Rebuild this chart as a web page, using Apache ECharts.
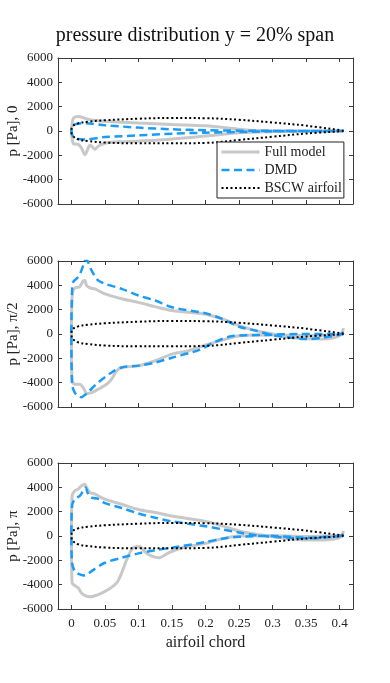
<!DOCTYPE html>
<html>
<head>
<meta charset="utf-8">
<script src="https://cdn.jsdelivr.net/npm/echarts@6/dist/echarts.min.js"></script>
<style>
  html, body { margin: 0; padding: 0; background: #fff; }
  #chart { width: 390px; height: 683px; }
</style>
</head>
<body>
<div id="chart"></div>
<script>
// chord ticks and pressure ticks
const chordTicks = [0, 0.05, 0.1, 0.15, 0.2, 0.25, 0.3, 0.35, 0.4];
const panelNames = ['p [Pa], 0', 'p [Pa], \u03c0/2', 'p [Pa], \u03c0'];
const seriesNames = ['Full model', 'DMD', 'BSCW airfoil'];

// BSCW airfoil outline (scaled), [x, p]
const airfoilUpper = [[0, 0], [0.002, 400], [0.01, 630], [0.025, 770], [0.05, 880], [0.1, 1010], [0.15, 1070], [0.2, 1050], [0.25, 920], [0.3, 700], [0.35, 440], [0.406, 30]];
const airfoilLower = [[0, 0], [0.002, -400], [0.01, -680], [0.025, -830], [0.05, -950], [0.1, -1010], [0.15, -1010], [0.2, -980], [0.25, -730], [0.3, -470], [0.35, -210], [0.406, -10]];

// phase 0
const full0Upper = [[0, 0], [0.001, 600], [0.003, 1050], [0.01, 1200], [0.02, 1050], [0.03, 900], [0.05, 800], [0.1, 650], [0.15, 530], [0.2, 430], [0.25, 150], [0.275, 40], [0.35, 10], [0.406, 0]];
const full0Lower = [[0, 0], [0.001, -600], [0.003, -1050], [0.01, -1100], [0.015, -1400], [0.02, -1950], [0.025, -1400], [0.028, -1150], [0.035, -1500], [0.04, -1250], [0.05, -1000], [0.075, -880], [0.125, -770], [0.2, -420], [0.25, -150], [0.3, -50], [0.35, -20], [0.406, 0]];
const dmd0Upper = [[0, 0], [0.002, 450], [0.01, 600], [0.02, 640], [0.05, 470], [0.1, 280], [0.15, 140], [0.2, 60], [0.3, 10], [0.406, 0]];
const dmd0Lower = [[0, 0], [0.002, -400], [0.01, -650], [0.02, -690], [0.05, -500], [0.1, -360], [0.15, -220], [0.2, -140], [0.3, -30], [0.406, 0]];

// phase pi/2
const full1Upper = [[0, 0], [0.001, 3000], [0.0025, 3580], [0.006, 3800], [0.0125, 3900], [0.0175, 4350], [0.02, 4400], [0.0225, 4000], [0.0275, 3800], [0.035, 3700], [0.05, 3300], [0.075, 2900], [0.1, 2600], [0.125, 2250], [0.15, 1930], [0.2, 1620], [0.225, 1240], [0.25, 690], [0.275, 280], [0.3, 0], [0.325, -270], [0.35, -400], [0.375, -410], [0.4, -140], [0.406, 480]];
const full1Lower = [[0, 0], [0.001, -3850], [0.005, -4130], [0.0125, -4130], [0.0175, -4400], [0.0235, -4900], [0.03, -4820], [0.04, -4540], [0.0525, -4130], [0.06, -3710], [0.0675, -3030], [0.075, -2750], [0.1, -2610], [0.125, -2200], [0.15, -1650], [0.175, -1380], [0.2, -900], [0.225, -500], [0.25, -140], [0.275, -80], [0.3, -90], [0.35, -130], [0.38, -110], [0.4, -30], [0.406, 0]];
const dmd1Upper = [[0, 0], [0.001, 3580], [0.0025, 4260], [0.01, 4680], [0.015, 5230], [0.02, 6000], [0.022, 6150], [0.025, 5900], [0.03, 5230], [0.04, 4400], [0.05, 4130], [0.075, 3710], [0.1, 3160], [0.125, 2750], [0.15, 2200], [0.2, 1700], [0.225, 1240], [0.25, 600], [0.275, 280], [0.3, -100], [0.325, -280], [0.35, -420], [0.375, -300], [0.4, -60], [0.406, 140]];
const dmd1Lower = [[0, 0], [0.001, -4130], [0.005, -4820], [0.01, -5100], [0.015, -5200], [0.02, -5000], [0.0235, -4900], [0.03, -4500], [0.04, -3990], [0.06, -3160], [0.075, -2750], [0.1, -2600], [0.125, -2350], [0.15, -1950], [0.19, -1320], [0.215, -630], [0.24, -170], [0.29, -80], [0.34, 0], [0.39, 0], [0.406, 0]];

// phase pi
const full2Upper = [[0, 0], [0.001, 3300], [0.005, 3710], [0.01, 3850], [0.015, 4130], [0.02, 4260], [0.0225, 4000], [0.0275, 3580], [0.035, 3440], [0.05, 3030], [0.075, 2610], [0.1, 2180], [0.125, 1930], [0.15, 1650], [0.2, 1200], [0.225, 830], [0.25, 410], [0.275, 140], [0.3, -60], [0.325, -220], [0.35, -330], [0.375, -330], [0.4, -140], [0.406, 410]];
const full2Lower = [[0, 0], [0.001, -3850], [0.005, -4070], [0.01, -4260], [0.015, -4680], [0.0225, -4950], [0.0275, -5000], [0.04, -4820], [0.055, -4400], [0.0675, -3850], [0.075, -3030], [0.0825, -1930], [0.09, -1100], [0.0975, -880], [0.1025, -880], [0.11, -1320], [0.12, -1650], [0.13, -1790], [0.145, -1380], [0.165, -960], [0.2, -600], [0.225, -220], [0.25, 0], [0.3, 50], [0.35, -50], [0.4, 50], [0.406, 0]];
const dmd2Upper = [[0, 0], [0.001, 2480], [0.005, 3030], [0.0125, 3300], [0.0175, 3710], [0.021, 3990], [0.025, 3440], [0.03, 3160], [0.04, 3050], [0.05, 2700], [0.075, 2300], [0.1, 1850], [0.125, 1500], [0.15, 1200], [0.2, 800], [0.225, 550], [0.25, 280], [0.275, 60], [0.325, -140], [0.35, -190], [0.375, -140], [0.4, 0], [0.406, 140]];
const dmd2Lower = [[0, 0], [0.001, -2200], [0.005, -2890], [0.0125, -3160], [0.02, -3250], [0.03, -2890], [0.05, -2200], [0.075, -1790], [0.1, -1430], [0.125, -1160], [0.15, -960], [0.2, -500], [0.225, -220], [0.25, -60], [0.3, 0], [0.35, -140], [0.4, 0], [0.406, 60]];

const fullCurves = [[full0Upper, full0Lower], [full1Upper, full1Lower], [full2Upper, full2Lower]];
const dmdCurves = [[dmd0Upper, dmd0Lower], [dmd1Upper, dmd1Lower], [dmd2Upper, dmd2Lower]];

// closed loop: trailing edge -> leading edge along upper side, then back along lower side
function loop(upper, lower) {
  return upper.slice().reverse().concat(lower.slice(1));
}

const font = "'Liberation Serif', 'DejaVu Serif', serif";
const axisColor = '#3a3a3a';
const gridTops = [58, 261, 463];
const gridH = 146;

const grids = [], xAxes = [], yAxes = [], series = [];

gridTops.forEach(function (top, i) {
  grids.push({ left: 58, width: 295, top: top, height: gridH, show: false, outerBoundsMode: 'none', containLabel: false });

  const xBase = {
    type: 'value', gridIndex: i, min: -0.02, max: 0.42,
    axisLine: { show: true, onZero: false, lineStyle: { color: axisColor, width: 1 } },
    axisTick: { show: true, inside: true, length: 4, customValues: chordTicks, lineStyle: { color: axisColor } },
    splitLine: { show: false }
  };
  xAxes.push(Object.assign({}, xBase, {
    position: 'bottom',
    axisLabel: {
      show: i === 2, customValues: chordTicks, margin: 8,
      color: '#222', fontFamily: font, fontSize: 13,
      formatter: function (v) { return String(Math.round(v * 100) / 100); }
    },
    name: i === 2 ? 'airfoil chord' : '',
    nameLocation: 'middle', nameGap: 26,
    nameTextStyle: { fontFamily: font, fontSize: 16, color: '#222' }
  }));
  xAxes.push(Object.assign({}, xBase, { position: 'top', axisLabel: { show: false } }));

  const yBase = {
    type: 'value', gridIndex: i, min: -6000, max: 6000, interval: 2000,
    axisLine: { show: true, onZero: false, lineStyle: { color: axisColor, width: 1 } },
    axisTick: { show: true, inside: true, length: 4, lineStyle: { color: axisColor } },
    splitLine: { show: false }
  };
  yAxes.push(Object.assign({}, yBase, {
    position: 'left',
    axisLabel: {
      color: '#222', fontFamily: font, fontSize: 13, margin: 5,
      formatter: function (v) { return String(v); }
    },
    name: panelNames[i], nameLocation: 'middle', nameGap: 37, nameMoveOverlap: false,
    nameTextStyle: { fontFamily: font, fontSize: 15, color: '#222' }
  }));
  yAxes.push(Object.assign({}, yBase, { position: 'right', axisLabel: { show: false } }));

  const xi = i * 2, yi = i * 2;
  series.push({
    name: seriesNames[0], type: 'line', xAxisIndex: xi, yAxisIndex: yi,
    data: loop(fullCurves[i][0], fullCurves[i][1]),
    symbol: 'none', smooth: 0.3, animation: false,
    lineStyle: { color: '#c8c8c8', width: 3 }, itemStyle: { color: '#c8c8c8' }
  });
  series.push({
    name: seriesNames[1], type: 'line', xAxisIndex: xi, yAxisIndex: yi,
    data: loop(dmdCurves[i][0], dmdCurves[i][1]),
    symbol: 'none', smooth: 0.3, animation: false,
    lineStyle: { color: '#1a9bf8', width: 2.5, type: [8, 4.5] }, itemStyle: { color: '#1a9bf8' }
  });
  series.push({
    name: seriesNames[2], type: 'line', xAxisIndex: xi, yAxisIndex: yi,
    data: loop(airfoilUpper, airfoilLower),
    symbol: 'none', smooth: 0.4, animation: false,
    lineStyle: { color: '#000', width: 2, type: [2, 2.5] }, itemStyle: { color: '#000' }
  });
});

const chart = echarts.init(document.getElementById('chart'));
chart.setOption({
  backgroundColor: '#fff',
  animation: false,
  title: {
    text: 'pressure distribution y = 20% span',
    left: 'center', top: 21,
    textStyle: { fontFamily: font, fontSize: 20, fontWeight: 'normal', color: '#111' }
  },
  legend: {
    data: seriesNames,
    orient: 'vertical', left: 217, top: 142,
    backgroundColor: '#fff', borderColor: '#222', borderWidth: 1, borderRadius: 0,
    padding: [3, 2, 3, 3], itemGap: 4, itemWidth: 38, itemHeight: 14,
    itemStyle: { opacity: 0 },
    lineStyle: { width: 'inherit' },
    textStyle: { fontFamily: font, fontSize: 14, color: '#222' }
  },
  grid: grids,
  xAxis: xAxes,
  yAxis: yAxes,
  series: series
});
</script>
</body>
</html>
